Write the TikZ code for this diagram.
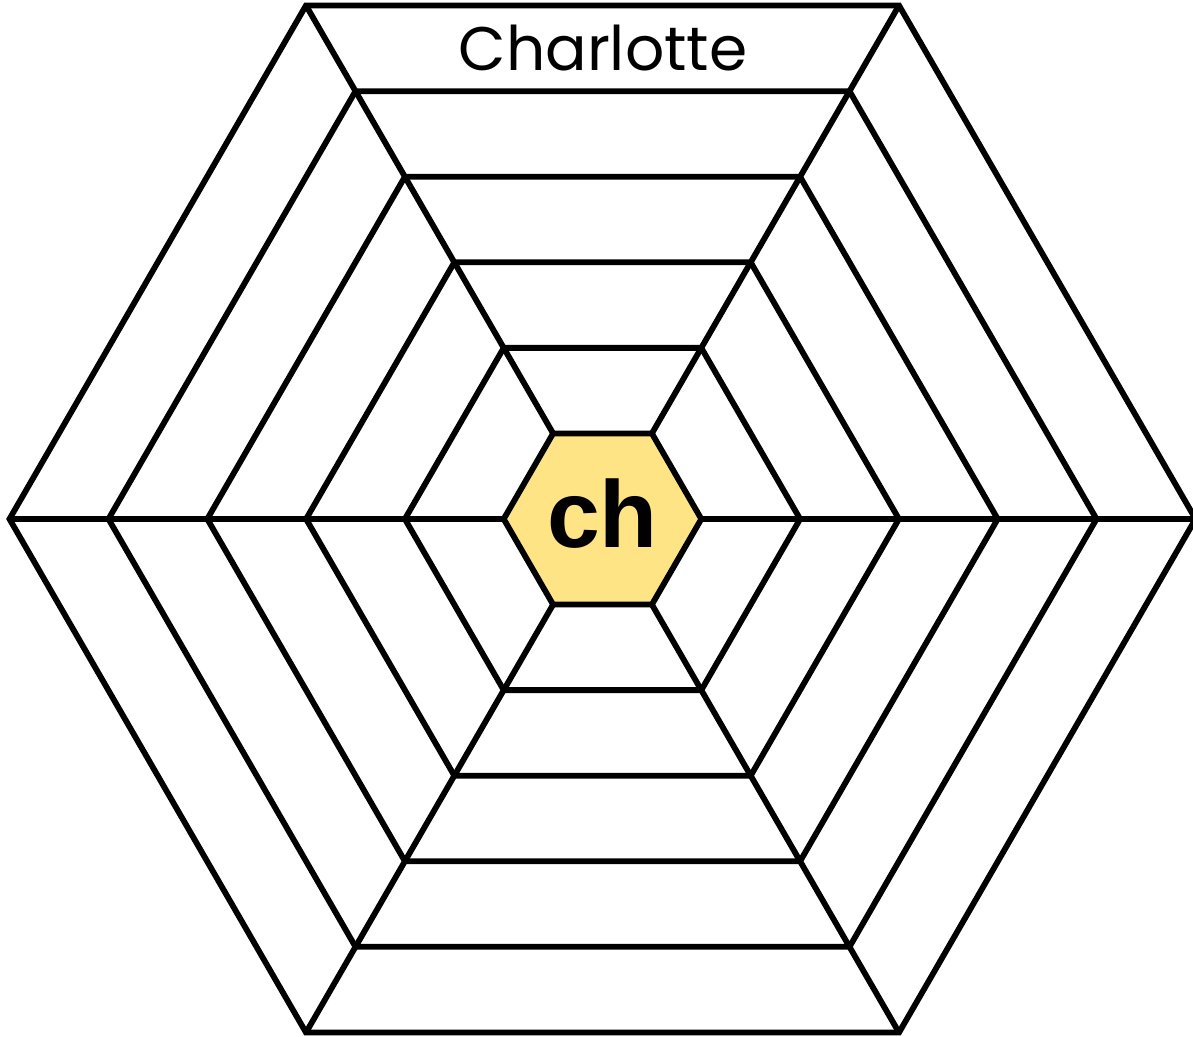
\documentclass[tikz,border=0pt]{standalone}
\usepackage{fontspec}
\usepackage{tikz}
\usetikzlibrary{calc,positioning}
\newfontfamily\webfont{Poppins}
\newfontfamily\syllfont{Liberation Sans}
\definecolor{miel}{HTML}{FFE485}

\begin{document}
\begin{tikzpicture}[line width=1.65pt,line join=miter]
\useasboundingbox (0,0) rectangle (11.93,10.36);
\coordinate (centro) at (6.025,5.17);
\begin{scope}[shift={(centro)}]
% hexagono central
\fill[miel] (0:0.988) -- (60:0.988) -- (120:0.988) -- (180:0.988) -- (240:0.988) -- (300:0.988) -- cycle;
% anillos
\foreach \r in {0.988,1.976,2.964,3.952,4.94,5.93}
  \draw (0:\r) -- (60:\r) -- (120:\r) -- (180:\r) -- (240:\r) -- (300:\r) -- cycle;
% radios
\foreach \a in {0,60,...,300}
  \draw (\a:0.988) -- (\a:5.93);
\end{scope}
\node[font=\syllfont\bfseries\fontsize{27}{27}\selectfont] (silaba) at ($(centro)+(0,0.05)$) {ch};
\node[font=\webfont\fontsize{17.5}{17.5}\selectfont] (nombre) at (6.03,9.88) {Charlotte};
\end{tikzpicture}
\end{document}
